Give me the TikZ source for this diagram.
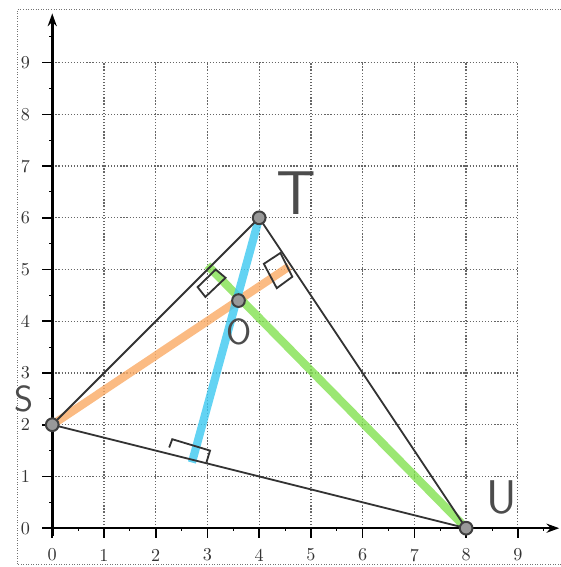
\documentclass[tikz,border=0pt]{standalone}
\usepackage{tikz}
\usetikzlibrary{arrows.meta}

\definecolor{altorange}{RGB}{250,170,100}
\definecolor{altblue}{RGB}{60,200,240}
\definecolor{altgreen}{RGB}{130,225,80}

\begin{document}
\begin{tikzpicture}[
		vertex/.style={circle, draw=black!75, fill=black!40, line width=1.1pt, inner sep=0pt, minimum size=7pt},
		edge/.style={line width=1pt, black!80},
		altitude/.style={line width=4.5pt, opacity=0.8},
		rightmark/.style={line width=1pt, black!80},
		gridline/.style={black!60, densely dotted, line width=0.7pt},
		axis/.style={line width=1.4pt, -{Stealth[length=7pt, width=5pt]}},
		ticklabel/.style={font=\normalsize, text=black!80},
		hand/.style={font=\sffamily, text=black!70, inner sep=0pt}
		]
		
		\clip (-1.01,-0.75) rectangle (9.83,10.21);
		\draw[black!55, densely dotted] (-0.68,-0.69) rectangle (10.4,10.02);
		
		\draw[gridline] (0,0) grid (9,9);
		
		\draw[axis] (-0.15,0) -- (9.8,0);
		\draw[axis] (0,-0.15) -- (0,9.95);
		
		\foreach \i in {0,...,9} {
			\draw[line width=0.9pt] (\i,0) -- (\i,-0.18);
			\draw[line width=0.9pt] (0,\i) -- (-0.2,\i);
			\node[ticklabel] (x\i) at (\i,-0.52) {\i};
			\node[ticklabel] (y\i) at (-0.52,\i) {\i};
		}
		\foreach \i in {0.5,1.5,...,9.5} {
			\draw[line width=0.5pt] (\i,0) -- (\i,-0.06);
			\draw[line width=0.5pt] (0,\i) -- (-0.06,\i);
		}
		
		\coordinate (S) at (0,2);
		\coordinate (T) at (4,6);
		\coordinate (U) at (8,0);
		\coordinate (H) at (3.6,4.4);
		\coordinate (fS) at (4.58,5.06);
		\coordinate (fT) at (2.7,1.27);
		\coordinate (fU) at (3.0,5.08);
		
		\draw[altitude, altorange] (S) -- (fS);
		\draw[altitude, altgreen] (fU) -- (U);
		\draw[altitude, altblue] (fT) -- (T);
		
		\draw[edge] (S) -- (T);
		\draw[edge] (T) -- (U);
		\draw[edge] (U) -- (S);
		
		% right angles
		\draw[rightmark] (2.81,4.66) -- (3.16,5.0) -- (3.35,4.84) -- (2.96,4.47) -- cycle;
		\draw[rightmark] (4.41,5.32) -- (4.64,4.86) -- (4.34,4.64) -- (4.09,5.11) -- cycle;
		\draw[rightmark] (2.26,1.56) -- (2.32,1.72) -- (3.05,1.5) -- (2.98,1.27);
		
		\node[vertex] (s) at (S) {};
		\node[vertex] (t) at (T) {};
		\node[vertex] (u) at (U) {};
		\node[vertex] (h) at (H) {};
		
		\node[hand, font=\sffamily\fontsize{20}{20}\selectfont] (ls) at (-0.55,2.5) {S};
		\node[hand, font=\sffamily\fontsize{34}{34}\selectfont] (lt) at (4.72,6.48) {T};
		\node[hand, font=\sffamily\fontsize{26}{26}\selectfont] (lu) at (8.68,0.6) {U};
		\node[hand, font=\sffamily\fontsize{20}{20}\selectfont] (lh) at (3.62,3.8) {O};
		
	\end{tikzpicture}
\end{document}
